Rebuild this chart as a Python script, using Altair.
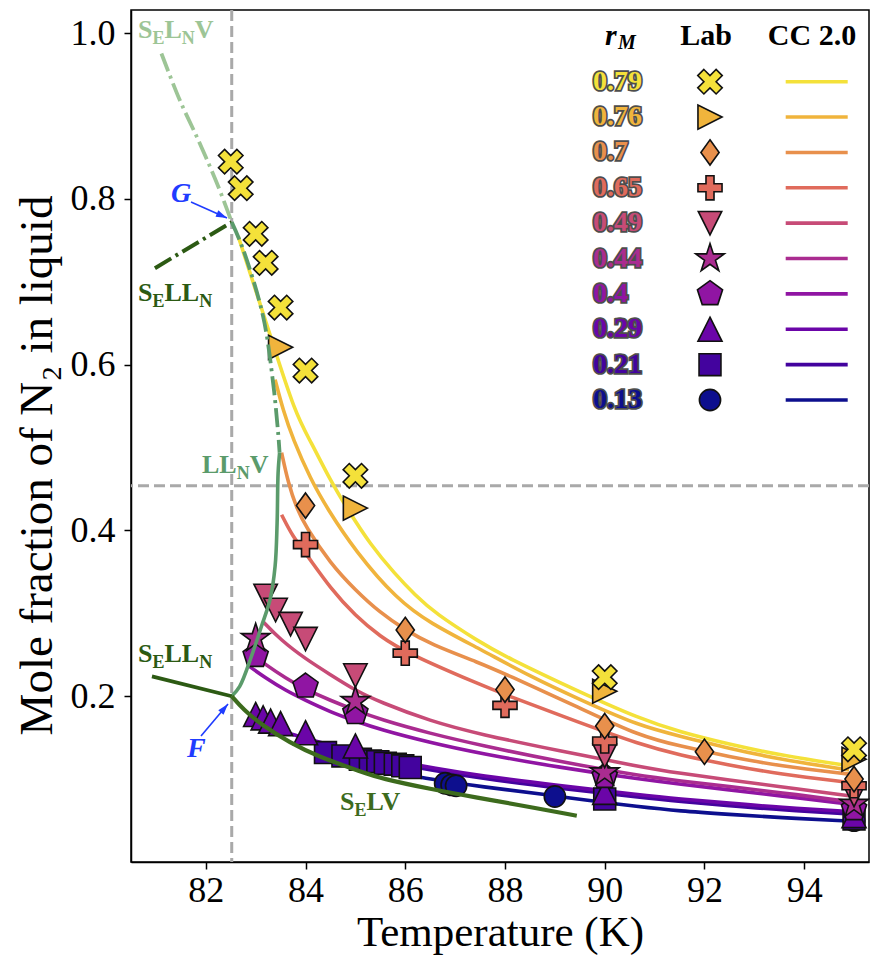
import math
import altair as alt
import pandas as pd

# ---------------- data ----------------
R_LABELS = ["0.79", "0.76", "0.7", "0.65", "0.49", "0.44", "0.4", "0.29", "0.21", "0.13"]
R_COLORS = ["#f4e13a", "#f0b43c", "#e8904c", "#e06b5c", "#c74b77",
            "#aa2c90", "#9015a3", "#6b05a8", "#43039e", "#0d0f8e"]

# Lab measurements (temperature K, mole fraction N2 in liquid)
LAB_079_T = [82.5, 82.7, 83.0, 83.2, 83.5, 84.0, 85.0, 90.0, 95.0]
LAB_079_X = [0.845, 0.813, 0.758, 0.723, 0.669, 0.593, 0.466, 0.223, 0.136]
LAB_076_T = [83.5, 85.0, 90.0, 95.0]
LAB_076_X = [0.621, 0.427, 0.206, 0.124]
LAB_070_T = [84.0, 86.0, 88.0, 90.0, 92.0, 95.0]
LAB_070_X = [0.430, 0.280, 0.208, 0.164, 0.133, 0.100]
LAB_065_T = [84.0, 86.0, 88.0, 90.0, 95.0]
LAB_065_X = [0.383, 0.252, 0.189, 0.146, 0.092]
LAB_049_T = [83.2, 83.4, 83.7, 84.0, 85.0, 90.0, 95.0]
LAB_049_X = [0.321, 0.304, 0.287, 0.269, 0.225, 0.128, 0.081]
LAB_044_T = [83.0, 85.0, 90.0, 95.0]
LAB_044_X = [0.270, 0.194, 0.108, 0.070]
LAB_040_T = [83.0, 84.0, 85.0, 90.0, 95.0]
LAB_040_X = [0.249, 0.212, 0.180, 0.103, 0.064]
LAB_029_T = [83.0, 83.15, 83.3, 83.5, 84.0, 85.0, 90.0, 95.0]
LAB_029_X = [0.178, 0.174, 0.170, 0.167, 0.156, 0.140, 0.084, 0.056]
LAB_021_T = [84.4, 84.75, 85.1, 85.3, 85.45, 85.6, 85.8, 85.95, 86.1, 90.0, 95.0]
LAB_021_X = [0.132, 0.128, 0.124, 0.122, 0.121, 0.119, 0.118, 0.116, 0.114, 0.076, 0.052]
LAB_013_T = [86.8, 86.93, 87.02, 89.0, 95.0]
LAB_013_X = [0.095, 0.093, 0.092, 0.079, 0.050]

# CC 2.0 model curves
CC_079_T = [82.65, 83.0, 83.3, 83.8, 84.1, 84.5, 84.85, 85.3, 85.8, 86.2, 86.6, 87.5, 88.0, 89.5, 90.7, 91.5, 92.5, 93.5, 94.9]
CC_079_X = [0.755, 0.690, 0.634, 0.540, 0.508, 0.460, 0.425, 0.383, 0.347, 0.322, 0.300, 0.265, 0.248, 0.205, 0.173, 0.157, 0.142, 0.129, 0.116]
CC_076_T = [83.39, 83.55, 83.75, 84.1, 84.43, 85.0, 85.83, 86.5, 87.5, 88.5, 89.5, 90.7, 91.5, 92.5, 93.5, 94.9]
CC_076_X = [0.582, 0.545, 0.510, 0.462, 0.427, 0.375, 0.317, 0.288, 0.257, 0.224, 0.196, 0.164, 0.152, 0.137, 0.124, 0.111]
CC_070_T = [83.52, 83.65, 83.82, 84.0, 84.5, 85.0, 85.49, 86.0, 86.5, 87.5, 88.0, 89.5, 90.7, 91.5, 92.5, 93.5, 94.9]
CC_070_X = [0.494, 0.458, 0.427, 0.405, 0.360, 0.328, 0.301, 0.280, 0.263, 0.240, 0.227, 0.186, 0.152, 0.140, 0.127, 0.116, 0.106]
CC_065_T = [83.52, 83.75, 84.0, 84.5, 85.0, 85.5, 86.0, 87.5, 88.0, 89.5, 90.7, 91.5, 92.5, 93.5, 94.9]
CC_065_X = [0.419, 0.392, 0.373, 0.330, 0.297, 0.272, 0.253, 0.214, 0.202, 0.168, 0.142, 0.129, 0.117, 0.106, 0.096]
CC_049_T = [83.15, 83.5, 84.0, 84.5, 85.0, 85.49, 86.5, 87.5, 89.1, 90.7, 91.5, 92.5, 93.5, 94.9]
CC_049_X = [0.290, 0.268, 0.245, 0.226, 0.207, 0.193, 0.170, 0.154, 0.134, 0.115, 0.107, 0.099, 0.091, 0.080]
CC_044_T = [82.88, 83.2, 83.6, 84.0, 84.5, 85.0, 85.5, 86.5, 87.5, 89.1, 90.7, 91.5, 92.5, 93.5, 94.9]
CC_044_X = [0.253, 0.238, 0.222, 0.208, 0.195, 0.183, 0.172, 0.155, 0.141, 0.121, 0.104, 0.098, 0.091, 0.084, 0.073]
CC_040_T = [82.85, 83.2, 83.6, 84.0, 84.5, 85.0, 85.49, 86.5, 87.5, 89.1, 90.7, 91.5, 92.5, 93.5, 94.9]
CC_040_X = [0.237, 0.222, 0.207, 0.195, 0.181, 0.170, 0.160, 0.144, 0.131, 0.114, 0.100, 0.094, 0.087, 0.080, 0.070]
CC_029_T = [83.4, 83.69, 84.0, 84.5, 85.0, 85.5, 86.16, 86.5, 87.5, 89.1, 90.7, 91.5, 92.5, 93.5, 94.9]
CC_029_X = [0.160, 0.155, 0.149, 0.141, 0.133, 0.126, 0.118, 0.114, 0.104, 0.092, 0.081, 0.076, 0.071, 0.066, 0.061]
CC_021_T = [84.25, 84.5, 85.0, 85.5, 86.16, 86.5, 87.5, 89.1, 90.7, 91.5, 92.5, 93.5, 94.9]
CC_021_X = [0.137, 0.134, 0.128, 0.122, 0.115, 0.111, 0.101, 0.089, 0.078, 0.073, 0.068, 0.063, 0.058]
CC_013_T = [84.6, 85.5, 86.16, 86.5, 87.5, 89.0, 89.5, 90.7, 91.5, 92.5, 93.5, 94.9]
CC_013_X = [0.122, 0.111, 0.104, 0.100, 0.091, 0.080, 0.0755, 0.0665, 0.0615, 0.0575, 0.0536, 0.0494]

# phase boundaries
SELNV_T = [81.11, 81.48, 81.88, 82.25, 82.52]
SELNV_X = [0.9755, 0.919, 0.867, 0.815, 0.772]
SELLN_META_T = [80.98, 82.52]
SELLN_META_X = [0.7165, 0.772]
LLNV_META_T = [82.52, 82.75, 83.15, 83.35, 83.45, 83.48]
LLNV_META_X = [0.772, 0.739, 0.658, 0.578, 0.518, 0.494]
LLNV_T = [83.48, 83.45, 83.43, 83.39, 83.29, 83.12, 82.92, 82.68, 82.52]
LLNV_X = [0.494, 0.4695, 0.409, 0.357, 0.317, 0.285, 0.249, 0.212, 0.200]
SELLN_T = [80.92, 82.52]
SELLN_X = [0.224, 0.200]
SELV_T = [82.52, 82.75, 83.15, 83.69, 84.22, 85.16, 85.5, 86.5, 87.5, 88.17, 89.44]
SELV_X = [0.200, 0.184, 0.164, 0.144, 0.128, 0.108, 0.101, 0.088, 0.077, 0.070, 0.0558]

T_REF = [82.52]
X_REF = [0.454]

X_TICKS = [82, 84, 86, 88, 90, 92, 94]
Y_TICKS = [0.2, 0.4, 0.6, 0.8, 1.0]

# ---------------- styling ----------------
FONT = "Liberation Serif"
W, H = 738, 852

X_PATH = "M-0.5,-1L0,-0.5L0.5,-1L1,-0.5L0.5,0L1,0.5L0.5,1L0,0.5L-0.5,1L-1,0.5L-0.5,0L-1,-0.5Z"
TRI_R = "M1,0L-1,-1L-1,1Z"
DIAM = "M0,-1L0.72,0L0,1L-0.72,0Z"
PLUS = ("M-0.333,-1L0.333,-1L0.333,-0.333L1,-0.333L1,0.333L0.333,0.333L0.333,1"
        "L-0.333,1L-0.333,0.333L-1,0.333L-1,-0.333L-0.333,-0.333Z")
TRI_D = "M-1,-1L1,-1L0,1Z"
STAR = ("M0,-1L0.2245,-0.309L0.951,-0.309L0.3633,0.118L0.5878,0.809L0,0.382"
        "L-0.5878,0.809L-0.3633,0.118L-0.951,-0.309L-0.2245,-0.309Z")
PENT = "M0,-1L0.951,-0.309L0.588,0.809L-0.588,0.809L-0.951,-0.309Z"
TRI_U = "M0,-1L1,1L-1,1Z"
SQUARE = "M-1,-1L1,-1L1,1L-1,1Z"
SHAPES = [X_PATH, TRI_R, DIAM, PLUS, TRI_D, STAR, PENT, TRI_U, SQUARE, "circle"]
SIZES = [600, 580, 640, 580, 550, 900, 700, 580, 480, 450]

XSCALE = alt.Scale(domain=[80.5, 95.3], nice=False, zero=False)
YSCALE = alt.Scale(domain=[0.0, 1.028], nice=False, zero=False)
XAXIS = alt.Axis(values=X_TICKS, format="d", grid=False, tickSize=7, tickWidth=1.5,
                 tickColor="black", domainColor="black", domainWidth=1.5,
                 labelFont=FONT, labelFontSize=36, labelColor="black", labelPadding=4,
                 titleFont=FONT, titleFontSize=43, titleFontWeight="normal",
                 titleColor="black", titlePadding=3)
YAXIS = alt.Axis(values=Y_TICKS, format=".1f", grid=False, tickSize=7, tickWidth=1.5,
                 tickColor="black", domainColor="black", domainWidth=1.5,
                 labelFont=FONT, labelFontSize=36, labelColor="black", labelPadding=9,
                 titleFont=FONT, titleFontSize=47, titleFontWeight="normal",
                 titleColor="black", titlePadding=9, titleY=455)


def X():
    return alt.X("T:Q", scale=XSCALE, axis=XAXIS, title="Temperature (K)")


def Y():
    return alt.Y("v:Q", scale=YSCALE, axis=YAXIS, title="Mole fraction of N\u2082 in liquid")


def line_layer(Ts, Xs, color, width, dash=None, interp="monotone"):
    df = pd.DataFrame({"T": Ts, "v": Xs, "i": list(range(len(Ts)))})
    kw = dict(color=color, strokeWidth=width, interpolate=interp, strokeCap="butt")
    if dash:
        kw["strokeDash"] = dash
    return alt.Chart(df).mark_line(**kw).encode(x=X(), y=Y(), order=alt.Order("i:Q"))


ONE = pd.DataFrame({"a": [0]})
BOLD_W = {"S": 0.556, "E": 0.667, "L": 0.667, "N": 0.722, "V": 0.722}


def sub_label(parts, x0, y0, color, big=26, small=18, drop=6):
    out = []
    x = x0
    for txt, sub in parts:
        fs = small if sub else big
        out.append(alt.Chart(ONE).mark_text(text=txt, font=FONT, fontWeight="bold", fontSize=fs,
                                            color=color, align="left", baseline="alphabetic")
                   .encode(x=alt.value(x), y=alt.value(y0 + (drop if sub else 0))))
        x += sum(BOLD_W[c] for c in txt) * fs
    return out


ARROW_HEAD = "M0,0L-0.5,1.6L0.5,1.6Z"


def arrow(x1, y1, x2, y2, color="#1f3cff"):
    ang = math.degrees(math.atan2(x2 - x1, -(y2 - y1))) % 360
    line = alt.Chart(ONE).mark_rule(color=color, strokeWidth=1.6).encode(
        x=alt.value(x1), y=alt.value(y1), x2=alt.value(x2), y2=alt.value(y2))
    head = alt.Chart(ONE).mark_point(shape=ARROW_HEAD, filled=True, color=color, size=190,
                                     angle=ang, opacity=1).encode(
        x=alt.value(x2), y=alt.value(y2))
    return [line, head]


# ---------------- main plot ----------------
layers = []
layers.append(alt.Chart(pd.DataFrame({"T": T_REF})).mark_rule(
    color="#a9a9a9", strokeWidth=3, strokeDash=[11, 5]).encode(x=X()))
layers.append(alt.Chart(pd.DataFrame({"v": X_REF})).mark_rule(
    color="#a9a9a9", strokeWidth=3, strokeDash=[11, 5]).encode(y=Y()))

CC = [(CC_079_T, CC_079_X), (CC_076_T, CC_076_X), (CC_070_T, CC_070_X), (CC_065_T, CC_065_X),
      (CC_049_T, CC_049_X), (CC_044_T, CC_044_X), (CC_040_T, CC_040_X), (CC_029_T, CC_029_X),
      (CC_021_T, CC_021_X), (CC_013_T, CC_013_X)]
for k in reversed(range(len(CC))):
    layers.append(line_layer(CC[k][0], CC[k][1], R_COLORS[k], 3.6, None, "basis"))

LAB = [(LAB_079_T, LAB_079_X), (LAB_076_T, LAB_076_X), (LAB_070_T, LAB_070_X), (LAB_065_T, LAB_065_X),
       (LAB_049_T, LAB_049_X), (LAB_044_T, LAB_044_X), (LAB_040_T, LAB_040_X), (LAB_029_T, LAB_029_X),
       (LAB_021_T, LAB_021_X), (LAB_013_T, LAB_013_X)]
for k in reversed(range(len(LAB))):
    df = pd.DataFrame({"T": LAB[k][0], "v": LAB[k][1]})
    layers.append(alt.Chart(df).mark_point(shape=SHAPES[k], size=SIZES[k], filled=True,
                                           fill=R_COLORS[k], stroke="#111111", strokeWidth=1.6,
                                           opacity=1).encode(x=X(), y=Y()))

DASHDOT = [19, 5, 3, 5]
layers.append(line_layer(SELNV_T, SELNV_X, "#9dc596", 3.8, DASHDOT, "catmull-rom"))
layers.append(line_layer(SELLN_META_T, SELLN_META_X, "#2c5a13", 4.0, DASHDOT, "linear"))
layers.append(line_layer(LLNV_META_T, LLNV_META_X, "#5b9b6b", 3.8, DASHDOT, "catmull-rom"))
layers.append(line_layer(LLNV_T, LLNV_X, "#5b9b6b", 3.6, None, "catmull-rom"))
layers.append(line_layer(SELLN_T, SELLN_X, "#2c5a13", 3.8, None, "linear"))
layers.append(line_layer(SELV_T, SELV_X, "#3d6b1d", 4.2, None, "basis"))

# region labels
layers += sub_label([("S", 0), ("E", 1), ("L", 0), ("N", 1), ("V", 0)], 7, 28, "#9dc596")
layers += sub_label([("S", 0), ("E", 1), ("LL", 0), ("N", 1)], 7, 291, "#2c5a13")
layers += sub_label([("LL", 0), ("N", 1), ("V", 0)], 71, 463, "#5b9b6b")
layers += sub_label([("S", 0), ("E", 1), ("LL", 0), ("N", 1)], 7, 652, "#2c5a13")
layers += sub_label([("S", 0), ("E", 1), ("LV", 0)], 209, 800, "#3d6b1d")
for txt, x0, y0 in [("G", 40, 192), ("F", 56, 747)]:
    layers.append(alt.Chart(ONE).mark_text(text=txt, font=FONT, fontWeight="bold", fontStyle="italic",
                                           fontSize=28, color="#1f3cff", align="left",
                                           baseline="alphabetic")
                  .encode(x=alt.value(x0), y=alt.value(y0)))
layers += arrow(60, 192, 96, 208)
layers += arrow(70, 726, 97, 694)

main = alt.layer(*layers)

# ---------------- legend table ----------------
leg_df = pd.DataFrame({"r": R_LABELS})
LY = alt.Y("r:N", scale=alt.Scale(type="point", domain=R_LABELS, range=[71.7, 390], padding=0),
           axis=None)
CSCALE = alt.Scale(domain=R_LABELS, range=R_COLORS)

leg = []
leg.append(alt.Chart(leg_df).mark_text(font=FONT, fontWeight="bold", fontSize=28, align="left",
                                       baseline="middle", fill="#4d4d4d", stroke="#4d4d4d",
                                       strokeWidth=3.5)
           .encode(x=alt.value(462), y=LY, text="r:N"))
leg.append(alt.Chart(leg_df).mark_text(font=FONT, fontWeight="bold", fontSize=28, align="left",
                                       baseline="middle")
           .encode(x=alt.value(462), y=LY, text="r:N",
                   color=alt.Color("r:N", scale=CSCALE, legend=None)))
leg.append(alt.Chart(leg_df).mark_rule(strokeWidth=3.6)
           .encode(x=alt.value(654.7), x2=alt.value(716.7), y=LY,
                   color=alt.Color("r:N", scale=CSCALE, legend=None)))
for k, lab in enumerate(R_LABELS):
    leg.append(alt.Chart(pd.DataFrame({"r": [lab]})).mark_point(
        shape=SHAPES[k], size=SIZES[k], filled=True, fill=R_COLORS[k], stroke="#111111",
        strokeWidth=1.6, opacity=1).encode(x=alt.value(579), y=LY))

for txt, x0, y0, fs, style, align in [("r", 474, 35, 30, "italic", "left"),
                                      ("M", 487, 39, 20, "italic", "left"),
                                      ("Lab", 575, 35, 30, "normal", "center"),
                                      ("CC 2.0", 681, 35, 30, "normal", "center")]:
    leg.append(alt.Chart(ONE).mark_text(text=txt, font=FONT, fontWeight="bold", fontStyle=style,
                                        fontSize=fs, color="black", align=align,
                                        baseline="alphabetic")
               .encode(x=alt.value(x0), y=alt.value(y0)))

legend = alt.layer(*leg)

chart = (alt.layer(main, legend)
         .resolve_scale(y="independent", color="independent")
         .properties(width=W, height=H, background="white",
                     autosize=alt.AutoSizeParams(type="none"),
                     padding={"left": 131, "top": 10, "right": 1, "bottom": 102})
         .configure_view(stroke="black", strokeWidth=1.5))

chart.save("out.html", embed_options={"renderer": "svg", "actions": False})
